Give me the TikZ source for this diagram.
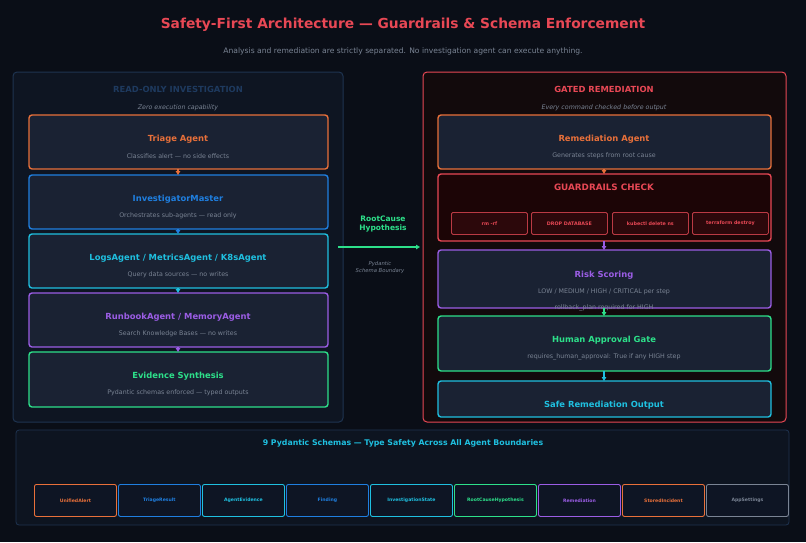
\documentclass[tikz,border=0pt]{standalone}
\usepackage{fontspec}
\setmainfont{DejaVu Sans}
\usetikzlibrary{arrows.meta}
\definecolor{bg}{HTML}{0A0E17}
\definecolor{boxf}{HTML}{1A2233}
\definecolor{cor}{HTML}{E8703A}
\definecolor{cbl}{HTML}{1F7FE0}
\definecolor{ccy}{HTML}{1FC0E0}
\definecolor{cpu}{HTML}{9B5DE5}
\definecolor{cgr}{HTML}{2DE08A}
\definecolor{cre}{HTML}{E84855}
\definecolor{cgy}{HTML}{7A8494}
\definecolor{lpb}{HTML}{1E3350}
\definecolor{lpt}{HTML}{1E3A5F}
\definecolor{chipf}{HTML}{0E1524}
\definecolor{rpf}{HTML}{120A0C}
\definecolor{gcf}{HTML}{1C0506}
\definecolor{gchf}{HTML}{2C080B}
\tikzset{x=1pt,y=-1pt,
 agent/.style={draw=#1,line width=1.4pt,rounded corners=3pt,fill=boxf},
 ttl/.style={font=\bfseries\fontsize{8.4}{9}\selectfont,text=#1},
 sub/.style={font=\fontsize{6.3}{7}\selectfont,text=cgy},
 arr/.style={-{Triangle[length=4pt,width=4.5pt]},line width=1.4pt,draw=#1},
 schip/.style={draw=#1,line width=0.9pt,rounded corners=2pt,fill=chipf,text=#1,font=\bfseries\fontsize{4.6}{5}\selectfont,minimum width=82pt,minimum height=32pt,anchor=north west,inner sep=0pt},
 gchip/.style={draw=cre!80!black,line width=0.8pt,rounded corners=1.5pt,fill=gchf,text=cre,font=\bfseries\fontsize{4.8}{5}\selectfont,minimum width=76pt,minimum height=22pt,anchor=north west,inner sep=0pt}}
\begin{document}
\begin{tikzpicture}
\fill[bg] (0,0) rectangle (806,542);
\useasboundingbox (0,0) rectangle (806,542);
\node[font=\bfseries\fontsize{13.8}{15}\selectfont,text=cre] (title) at (403,25) {Safety-First Architecture — Guardrails \& Schema Enforcement};
\node[font=\fontsize{7.6}{9}\selectfont,text=cgy] (subt) at (403,51) {Analysis and remediation are strictly separated. No investigation agent can execute anything.};
% left panel
\draw[lpb,line width=1pt,rounded corners=4pt,fill=bg!80!lpb] (13,72) rectangle (343,422);
\node[ttl=lpt] (lt) at (178,89) {READ-ONLY INVESTIGATION};
\node[sub,font=\itshape\fontsize{6.3}{7}\selectfont] (ls) at (178,108) {Zero execution capability};
\foreach \n/\c/\ya/\yb/\t/\s in {a/cor/115/169/{Triage Agent}/{Classifies alert — no side effects},
 b/cbl/175/229/{InvestigatorMaster}/{Orchestrates sub-agents — read only},
 c/ccy/234/288/{LogsAgent / MetricsAgent / K8sAgent}/{Query data sources — no writes},
 d/cpu/293/347/{RunbookAgent / MemoryAgent}/{Search Knowledge Bases — no writes},
 e/cgr/352/407/{Evidence Synthesis}/{Pydantic schemas enforced — typed outputs}}{
 \draw[agent=\c] (29,\ya) rectangle (328,\yb);
 \coordinate (\n top) at (178,\ya);
 \coordinate (\n bot) at (178,\yb);
 \node[ttl=\c] (\n t) at (178,\ya+24) {\t};
 \node[sub] (\n s) at (178,\ya+41) {\s};
}
\draw[arr=cor] (abot) -- (btop);
\draw[arr=cbl] (bbot) -- (ctop);
\draw[arr=ccy] (cbot) -- (dtop);
\draw[arr=cpu] (dbot) -- (etop);
% right panel
\draw[cre,line width=1pt,rounded corners=4pt,fill=rpf] (423,72) rectangle (786,422);
\node[ttl=cre] (rt) at (604,89) {GATED REMEDIATION};
\node[sub,font=\itshape\fontsize{6.3}{7}\selectfont] (rs) at (604,108) {Every command checked before output};
\draw[agent=cor] (438,115) rectangle (771,169);
\node[ttl=cor] (ra) at (604,139) {Remediation Agent};
\node[sub] (ras) at (604,156) {Generates steps from root cause};
\draw[agent=cre,fill=gcf] (438,174) rectangle (771,241);
\node[ttl=cre,font=\bfseries\fontsize{8.8}{10}\selectfont] (gt) at (604,187) {GUARDRAILS CHECK};
\node[gchip] (g1) at (451,212) {rm -rf};
\node[gchip] (g2) at (531,212) {DROP DATABASE};
\node[gchip] (g3) at (612,212) {kubectl delete ns};
\node[gchip] (g4) at (692,212) {terraform destroy};
\draw[agent=cpu] (438,250) rectangle (771,308);
\node[ttl=cpu] (rk) at (604,275) {Risk Scoring};
\node[sub] (rk1) at (604,292) {LOW / MEDIUM / HIGH / CRITICAL per step};
\node[sub] (rk2) at (604,308) {rollback\_plan required for HIGH};
\draw[agent=cgr] (438,316) rectangle (771,371);
\node[ttl=cgr] (hu) at (604,340) {Human Approval Gate};
\node[sub] (hus) at (604,357) {requires\_human\_approval: True if any HIGH step};
\draw[agent=ccy] (438,381) rectangle (771,417);
\node[ttl=ccy] (sf) at (604,405) {Safe Remediation Output};
\coordinate (r1) at (604,169); \coordinate (r2) at (604,174);
\coordinate (r3) at (604,241); \coordinate (r4) at (604,250);
\coordinate (r5) at (604,308); \coordinate (r6) at (604,316);
\coordinate (r7) at (604,371); \coordinate (r8) at (604,381);
\draw[arr=cor] (r1) -- (r2);
\draw[arr=cpu] (r3) -- (r4);
\draw[arr=cgr] (r5) -- (r6);
\draw[arr=ccy] (r7) -- (r8);
% middle arrow
\coordinate (m1) at (338,247); \coordinate (m2) at (420,247);
\draw[arr=cgr] (m1) -- (m2);
\node[ttl=cgr,align=center,font=\bfseries\fontsize{7.5}{9}\selectfont] (rc) at (383,224) {RootCause\\Hypothesis};
\node[sub,align=center,font=\itshape\fontsize{5.3}{7}\selectfont] (pb) at (380,268) {Pydantic\\Schema Boundary};
% bottom panel
\draw[lpb,line width=0.8pt,rounded corners=3pt,fill=bg!85!lpb] (16,430) rectangle (789,525);
\node[ttl=ccy,font=\bfseries\fontsize{7.8}{9}\selectfont] (bt) at (403,443) {9 Pydantic Schemas — Type Safety Across All Agent Boundaries};
\node[schip=cor] (s1) at (34,484) {UnifiedAlert};
\node[schip=cbl] (s2) at (118,484) {TriageResult};
\node[schip=ccy] (s3) at (202,484) {AgentEvidence};
\node[schip=cbl] (s4) at (286,484) {Finding};
\node[schip=ccy] (s5) at (370,484) {InvestigationState};
\node[schip=cgr] (s6) at (454,484) {RootCauseHypothesis};
\node[schip=cpu] (s7) at (538,484) {Remediation};
\node[schip=cor] (s8) at (622,484) {StoredIncident};
\node[schip=cgy] (s9) at (706,484) {AppSettings};
\end{tikzpicture}
\end{document}
